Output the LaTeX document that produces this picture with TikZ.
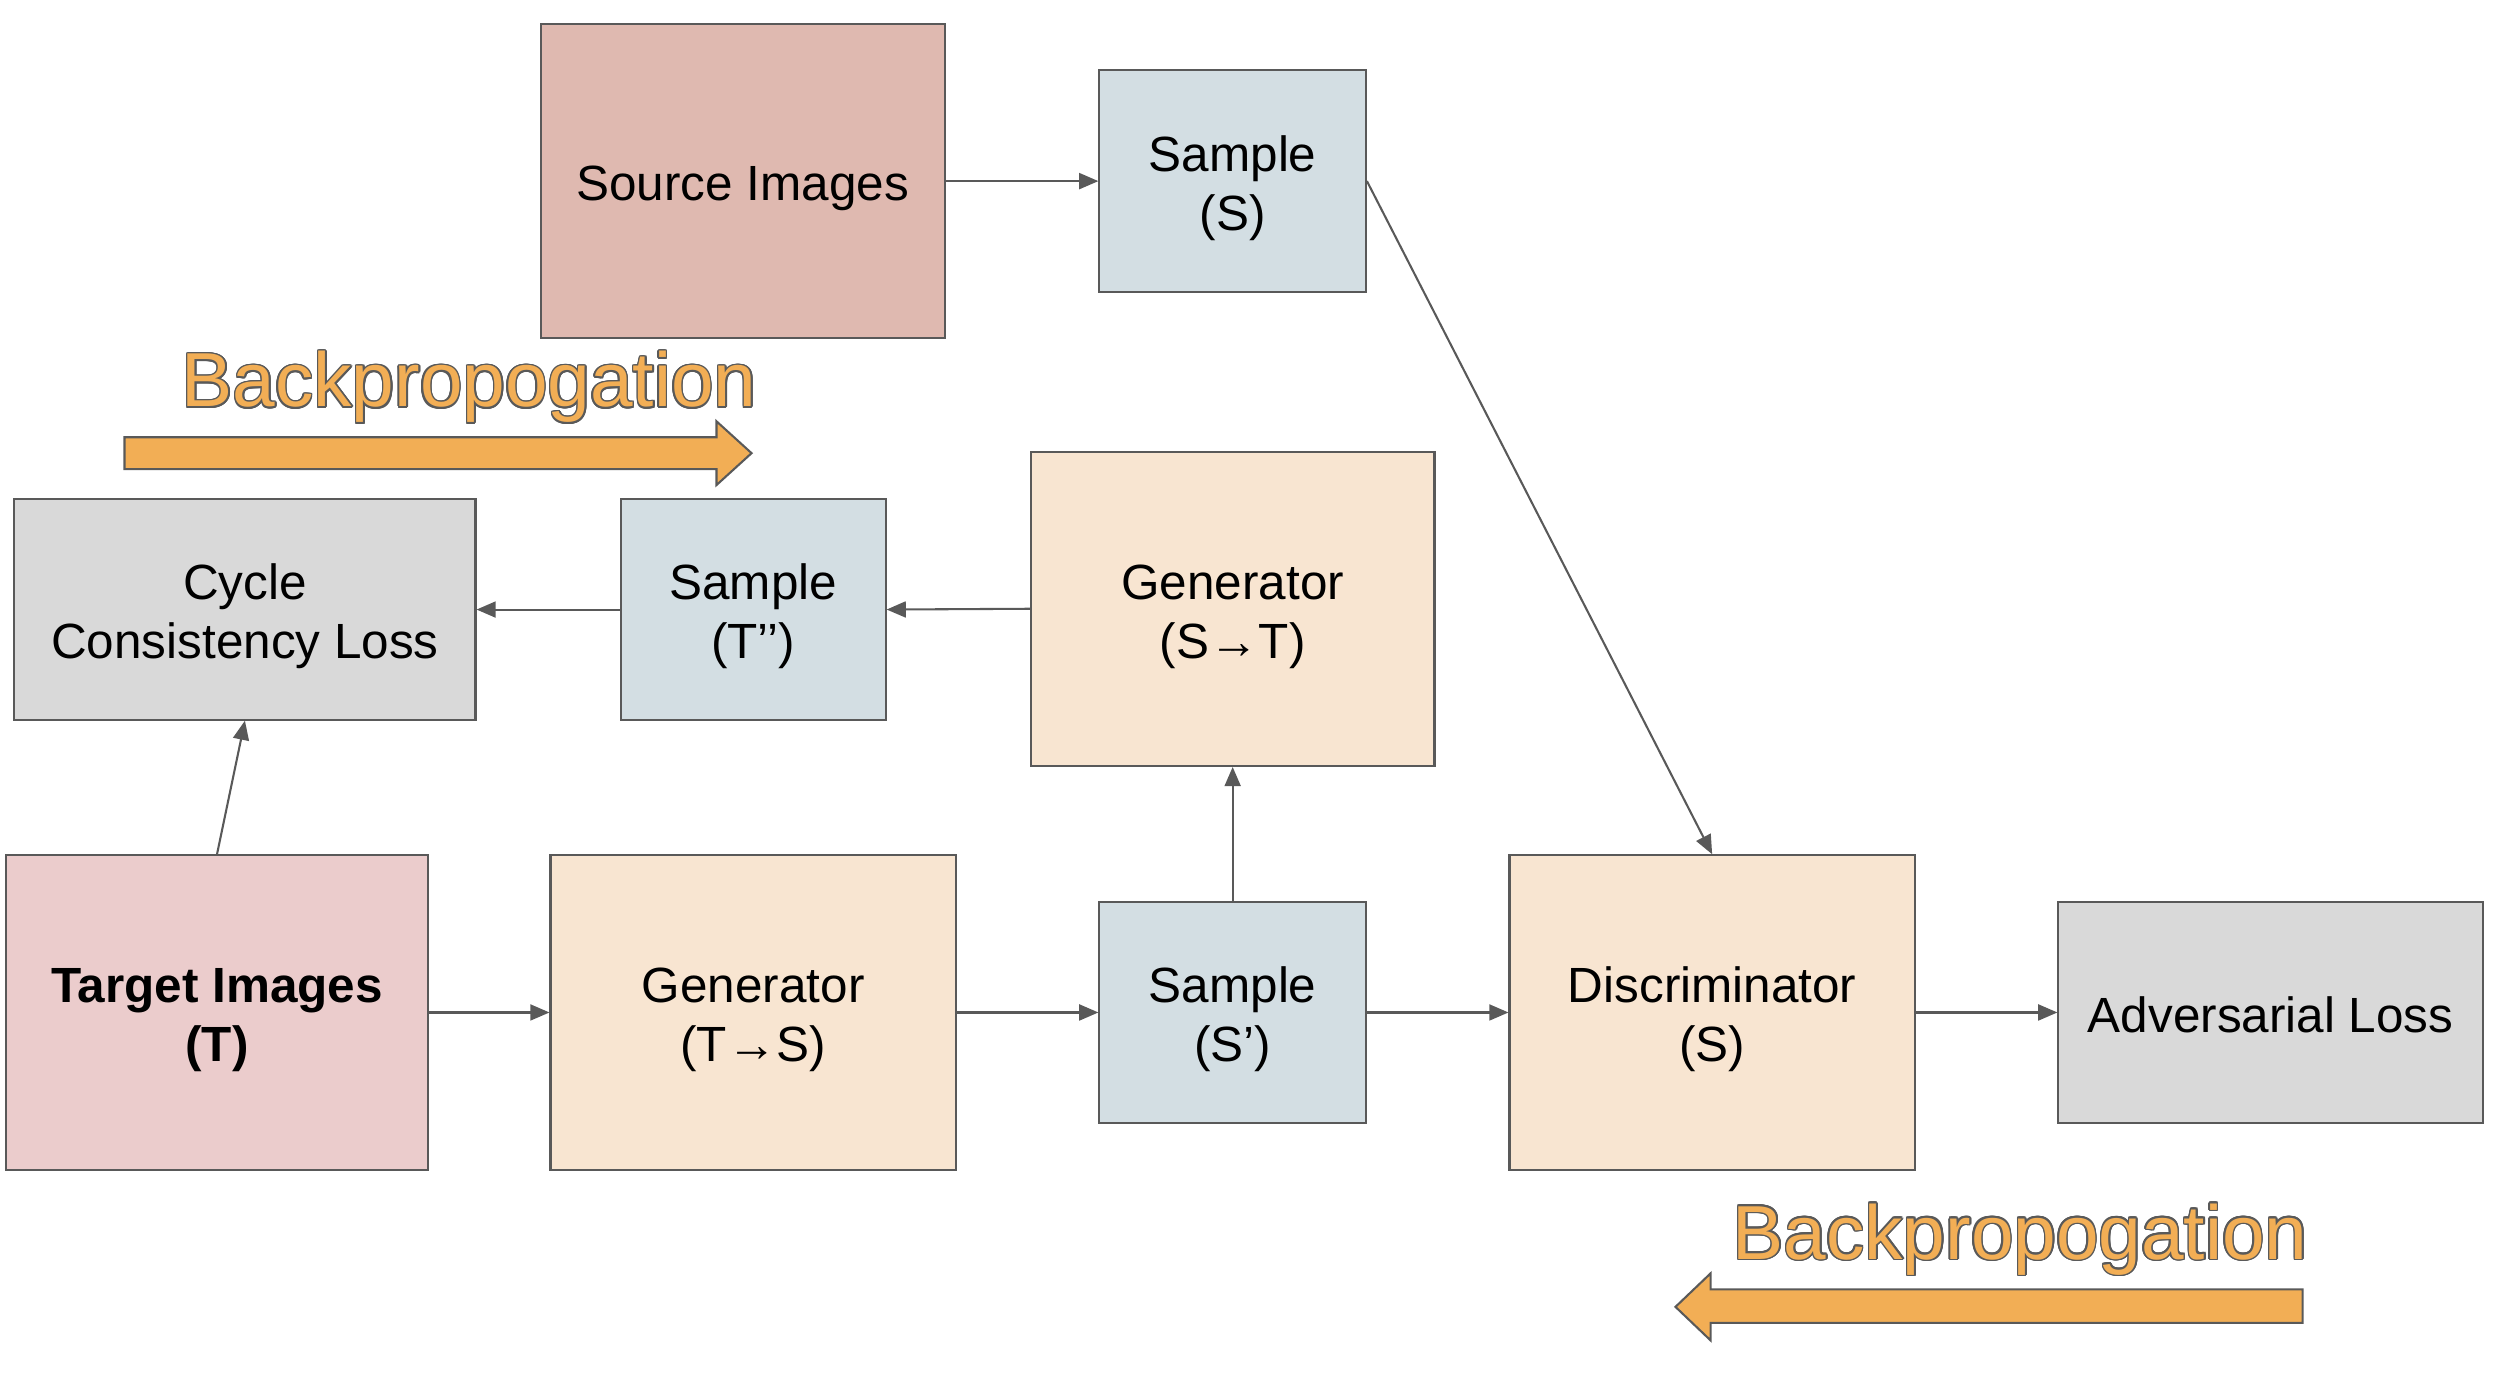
\documentclass[tikz,border=0pt]{standalone}
\usepackage{fontspec}
\setmainfont{Liberation Sans}
\usepackage[copies]{contour}
\usetikzlibrary{arrows.meta}
\definecolor{lineg}{HTML}{595959}
\definecolor{srcc}{HTML}{DFB9B0}
\definecolor{smpc}{HTML}{D3DEE3}
\definecolor{lossc}{HTML}{D9D9D9}
\definecolor{genc}{HTML}{F8E5D1}
\definecolor{tgtc}{HTML}{EBCCCC}
\definecolor{bpc}{HTML}{F2AE55}
\contourlength{1.0pt}
\newcommand\boxtext[1]{\raisebox{-5pt}[\height][\depth]{\begin{tabular}{@{}c@{}}#1\end{tabular}}}
\tikzset{
  box/.style={draw=lineg, line width=1.3pt, inner sep=0pt, align=center,
    font=\fontsize{31}{37}\selectfont},
  conn/.style={draw=lineg, line width=1.3pt, -{Triangle[length=12pt,width=10pt]}},
  bparrow/.style={fill=bpc, draw=lineg, line width=1.3pt},
  bptext/.style={inner sep=0pt, anchor=base, text=bpc, font=\fontsize{48}{50}\selectfont}
}
\begin{document}
\begin{tikzpicture}[x=1pt,y=-1pt]
\useasboundingbox (0,0) rectangle (1568,876);
\node[box, fill=srcc, minimum width=253pt, minimum height=197pt] (src) at (465.5,113.5) {\boxtext{Source Images}};
\node[box, fill=smpc, minimum width=167pt, minimum height=139pt] (sS) at (772.5,113.5) {\boxtext{Sample\\(S)}};
\node[box, fill=lossc, minimum width=289pt, minimum height=138pt] (ccl) at (153.5,382) {\boxtext{Cycle\\Consistency Loss}};
\node[box, fill=smpc, minimum width=166pt, minimum height=138pt] (sT2) at (472,382) {\boxtext{Sample\\(T’’)}};
\node[box, fill=genc, minimum width=253pt, minimum height=197pt] (genST) at (772.5,381.5) {\boxtext{Generator\\(S→T)}};
\node[box, fill=tgtc, minimum width=264pt, minimum height=197pt] (tgt) at (136,634.5) {\boxtext{\bfseries Target Images\\\bfseries (T)}};
\node[box, fill=genc, minimum width=254pt, minimum height=197pt] (genTS) at (472,634.5) {\boxtext{Generator\\(T→S)}};
\node[box, fill=smpc, minimum width=167pt, minimum height=139pt] (sS2) at (772.5,634.5) {\boxtext{Sample\\(S’)}};
\node[box, fill=genc, minimum width=254pt, minimum height=197pt] (disc) at (1073,634.5) {\boxtext{Discriminator\\(S)}};
\node[box, fill=lossc, minimum width=266pt, minimum height=139pt] (adv) at (1423,634.5) {\boxtext{Adversarial Loss}};

\draw[conn] (src.east) -- (sS.west);
\draw[conn] (sS.east) -- (disc.north);
\draw[conn] (genST.west) -- (sT2.east);
\draw[conn] (sT2.west) -- (ccl.east);
\draw[conn] (tgt.north) -- (ccl.south);
\draw[conn] (tgt.east) -- (genTS.west);
\draw[conn] (genTS.east) -- (sS2.west);
\draw[conn] (sS2.north) -- (genST.south);
\draw[conn] (sS2.east) -- (disc.west);
\draw[conn] (disc.east) -- (adv.west);

\node[bptext] (bp1) at (294,255) {\contour{lineg}{Backpropogation}};
\draw[bparrow] (78,274) -- (449,274) -- (449,264) -- (471,284) -- (449,304) -- (449,294) -- (78,294) -- cycle;
\node[bptext] (bp2) at (1266,789) {\contour{lineg}{Backpropogation}};
\draw[bparrow] (1443,808) -- (1072,808) -- (1072,798) -- (1050,819) -- (1072,840) -- (1072,829) -- (1443,829) -- cycle;
\end{tikzpicture}
\end{document}
